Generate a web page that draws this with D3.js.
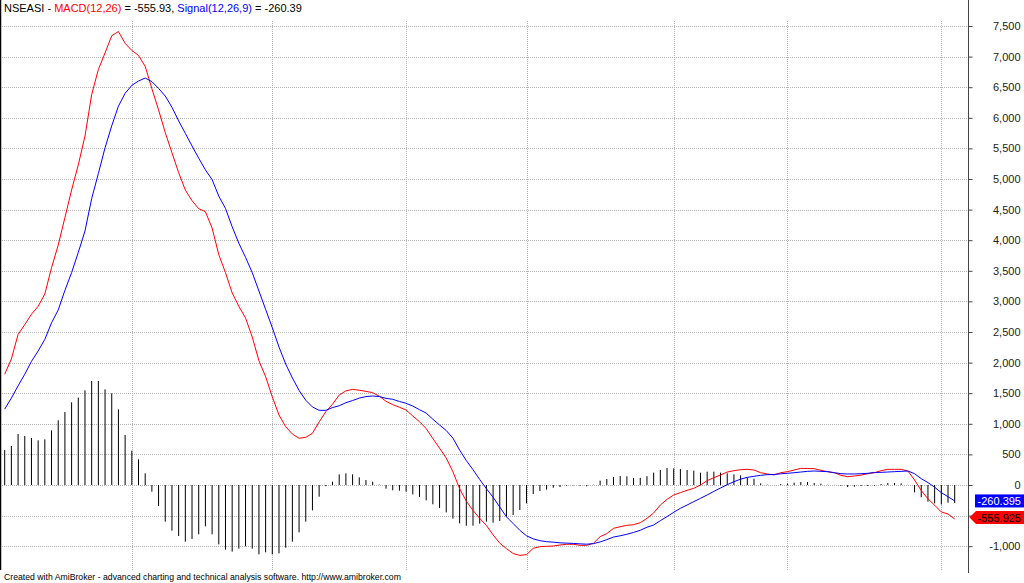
<!DOCTYPE html>
<html><head><meta charset="utf-8">
<script src="https://cdnjs.cloudflare.com/ajax/libs/d3/7.8.5/d3.min.js"></script>
<style>
html,body{margin:0;padding:0;background:#fff;}
svg{display:block;font-family:"Liberation Sans",Arial,sans-serif;}
</style></head><body>
<svg id="chart" width="1024" height="583"></svg>
<script>
// ---- data (one value per trading bar) ----
const macd = [
 1810, 2060, 2460, 2620, 2790, 2920, 3120, 3550, 3920, 4370,
 4820, 5230, 5700, 6380, 6790, 7060, 7340, 7410, 7217, 7100,
 7020, 6840, 6475, 6130, 5757, 5430, 5103, 4820, 4646, 4515,
 4466, 4199, 3763, 3470, 3140, 2920, 2729, 2418, 2030, 1770,
 1440, 1144, 953, 833, 763, 779, 845, 1030, 1198, 1320,
 1470, 1538, 1563, 1548, 1530, 1509, 1450, 1367, 1313, 1270,
 1225, 1127, 1035, 922, 760, 602, 440, 215, -60, -265,
 -415, -545, -660, -815, -950, -1040, -1120, -1150, -1138, -1035,
 -1008, -1002, -997, -980, -969, -969, -986, -986, -953, -844,
 -795, -708, -681, -659, -648, -616, -545, -458, -327, -235,
 -163, -125, -87, -54, 0, 71, 120, 163, 212, 234,
 250, 256, 245, 201, 180, 165, 201, 218, 245, 272,
 270, 267, 240, 218, 201, 158, 136, 147, 161, 185,
 200, 234, 256, 256, 256, 229, 82, -90, -225, -330,
 -440, -474, -555.93
];
const signal = [
 1240, 1420, 1620, 1810, 2020, 2190, 2380, 2650, 2860, 3180,
 3470, 3800, 4150, 4680, 5090, 5510, 5870, 6190, 6400, 6530,
 6601, 6650, 6591, 6480, 6356, 6172, 5950, 5746, 5540, 5340,
 5150, 4990, 4720, 4520, 4220, 3950, 3720, 3470, 3170, 2870,
 2570, 2255, 1977, 1750, 1545, 1385, 1275, 1220, 1220, 1265,
 1295, 1345, 1380, 1420, 1445, 1454, 1445, 1416, 1400, 1365,
 1335, 1290, 1230, 1175, 1075, 980, 890, 765, 570, 400,
 250, 90, -60, -200, -360, -520, -630, -740, -830, -880,
 -910, -926, -934, -945, -950, -955, -962, -967, -958, -930,
 -893, -850, -830, -805, -775, -740, -690, -654, -583, -517,
 -446, -381, -327, -272, -218, -163, -104, -49, 5, 54,
 95, 125, 142, 158, 169, 172, 183, 191, 201, 212,
 223, 229, 223, 218, 201, 185, 180, 180, 185, 191,
 205, 207, 212, 218, 223, 229, 185, 103, 40, -35,
 -125, -191, -260.39
];
const histogram = [
 572, 637, 833, 801, 768, 730, 746, 893, 1057, 1193,
 1351, 1427, 1547, 1700, 1700, 1563, 1498, 1236, 817, 561,
 419, 191, -109, -343, -599, -746, -833, -926, -882, -806,
 -675, -806, -970, -1057, -1089, -1040, -1002, -1040, -1133, -1100,
 -1133, -1117, -1024, -926, -773, -599, -414, -191, -20, 54,
 174, 191, 174, 125, 82, 54, 5, -60, -87, -93,
 -109, -153, -196, -251, -316, -376, -447, -550, -626, -665,
 -665, -632, -599, -616, -588, -517, -490, -409, -300, -147,
 -98, -76, -44, -33, -11, -5, -11, -22, 5, 71,
 98, 131, 147, 142, 114, 117, 145, 202, 245, 278,
 272, 261, 245, 234, 202, 218, 218, 202, 191, 174,
 158, 120, 103, 27, 5, 0, 16, 22, 38, 49,
 49, 33, 22, 3, 2, -11, -33, -27, -16, -16,
 -11, 16, 33, 33, 27, 3, -120, -200, -272, -300,
 -318, -290, -295.54
];
const monthStartBars = [19, 40, 60, 78, 100, 117, 140];
const yTickValues = [-1000, -500, 0, 500, 1000, 1500, 2000, 2500, 3000, 3500, 4000, 4500, 5000, 5500, 6000, 6500, 7000, 7500];
const lastMacdText = "-555.925";
const lastSignalText = "-260.395";
const titleParts = [
  {t: "NSEASI - ", c: "#000000"},
  {t: "MACD(12,26)", c: "#ff0000"},
  {t: " = -555.93, ", c: "#000000"},
  {t: "Signal(12,26,9)", c: "#0000ff"},
  {t: " = -260.39", c: "#000000"}
];
const footerText = "Created with AmiBroker - advanced charting and technical analysis software. http://www.amibroker.com";

// ---- drawing ----
const svg = d3.select("#chart");
const W = 1024, H = 583;
const axisX = 968.5, plotBottom = 570;

const x = d3.scaleLinear().domain([0, macd.length - 1]).range([4.7, 954.7]);
const y = d3.scaleLinear().domain([-1000, 7500]).range([546.2, 26]);

const loc = d3.formatLocale({decimal: ".", thousands: ",", grouping: [3], currency: ["$", ""], minus: "-"});
const fmt = loc.format(",");

svg.append("rect").attr("width", W).attr("height", H).attr("fill", "#fff");

// horizontal grid
svg.append("g").selectAll("line").data(yTickValues).join("line")
  .attr("x1", 2).attr("x2", axisX - 1)
  .attr("y1", d => Math.round(y(d)) + 0.5).attr("y2", d => Math.round(y(d)) + 0.5)
  .attr("stroke", "#b4b4b4").attr("stroke-dasharray", "1,1");

// vertical grid
svg.append("g").selectAll("line").data(monthStartBars).join("line")
  .attr("x1", d => Math.round(x(d)) + 0.5).attr("x2", d => Math.round(x(d)) + 0.5)
  .attr("y1", 21).attr("y2", plotBottom)
  .attr("stroke", "#b4b4b4").attr("stroke-dasharray", "1,1");

// histogram
svg.append("g").selectAll("line").data(histogram).join("line")
  .attr("x1", (d, i) => x(i)).attr("x2", (d, i) => x(i))
  .attr("y1", y(0)).attr("y2", d => y(d))
  .attr("stroke", "#000").attr("stroke-width", 1);

const line = d3.line().x((d, i) => x(i)).y(d => y(d));
svg.append("path").datum(macd).attr("d", line)
  .attr("fill", "none").attr("stroke", "#ff0000").attr("stroke-width", 1);
svg.append("path").datum(signal).attr("d", line)
  .attr("fill", "none").attr("stroke", "#0000ff").attr("stroke-width", 1);

// left border
svg.append("line").attr("x1", 0.5).attr("x2", 0.5).attr("y1", 0).attr("y2", plotBottom)
  .attr("stroke", "#000").attr("stroke-width", 1.5);

// right axis
const ax = svg.append("g").attr("transform", `translate(${axisX},0)`)
  .call(d3.axisRight(y).tickValues(yTickValues).tickSize(4).tickFormat(fmt));
ax.select(".domain").remove();
ax.selectAll(".tick line").attr("stroke", "#444");
ax.selectAll(".tick text").attr("text-anchor", "end").attr("x", 52)
  .attr("font-size", 11).attr("font-family", "'Liberation Sans',Arial,sans-serif").attr("fill", "#222");
svg.append("line").attr("x1", axisX).attr("x2", axisX).attr("y1", 0).attr("y2", 573)
  .attr("stroke", "#444").attr("stroke-width", 1);

// last-value labels
const sy = y(signal[signal.length - 1]);
svg.append("rect").attr("x", 975).attr("y", sy - 6.5).attr("width", 49).attr("height", 13).attr("fill", "#0000ff");
svg.append("text").attr("x", 1021).attr("y", sy + 4).attr("text-anchor", "end")
  .attr("font-size", 11).attr("fill", "#fff").text(lastSignalText);
const my = y(macd[macd.length - 1]) - 1.5;
svg.append("path")
  .attr("d", `M969.5,${my} L976,${my - 6.5} L1024,${my - 6.5} L1024,${my + 6.5} L976,${my + 6.5} Z`)
  .attr("fill", "#ff0000");
svg.append("text").attr("x", 1021).attr("y", my + 4).attr("text-anchor", "end")
  .attr("font-size", 11).attr("fill", "#000").text(lastMacdText);

// title
const title = svg.append("text").attr("x", 4).attr("y", 11.5).attr("font-size", 11);
titleParts.forEach(p => title.append("tspan").attr("fill", p.c).text(p.t));

// footer
svg.append("text").attr("x", 4).attr("y", 580).attr("font-size", 8.7).attr("fill", "#000").text(footerText);
</script>
</body></html>
